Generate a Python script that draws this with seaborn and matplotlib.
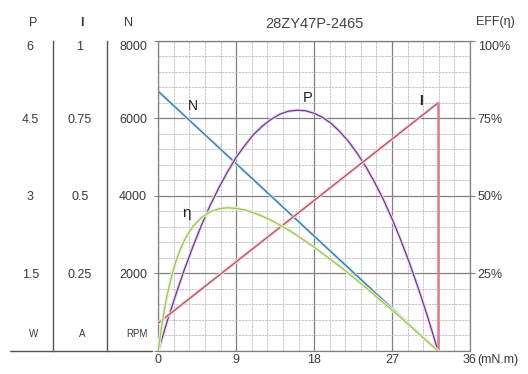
import numpy as np
import matplotlib
matplotlib.use("Agg")
import matplotlib.pyplot as plt
import matplotlib.patheffects as pe
import seaborn as sns

# values (torque in mN.m)
torque_line = [0, 32.3]
speed_rpm = [6700, 0]
current_a = [0.09, 0.80]

torque_p = [0, 0.5, 1, 2, 3, 4, 5, 6, 7, 8, 9, 10, 11, 12, 13, 14, 15, 16, 17, 18, 19,
            20, 21, 22, 23, 24, 25, 26, 27, 28, 29, 30, 31, 31.7, 32.3]
power_w = [0, 0.28, 0.56, 1.08, 1.57, 2.02, 2.44, 2.82, 3.16, 3.47, 3.75, 3.98, 4.19,
           4.35, 4.48, 4.58, 4.64, 4.66, 4.65, 4.60, 4.52, 4.40, 4.24, 4.05, 3.82,
           3.56, 3.26, 2.93, 2.56, 2.15, 1.71, 1.23, 0.72, 0.34, 0]

torque_eff = [0, 0.1, 0.25, 0.5, 0.75, 1, 1.5, 2, 2.5, 3, 3.5, 4, 5, 6, 7, 8, 9, 10,
              11, 12, 13, 14, 15, 16, 17, 18, 19, 20, 21, 22, 23, 24, 25, 26, 27, 28,
              29, 30, 31, 31.7, 32.3]
eff_pct = [0, 2.2, 5.3, 9.9, 14.0, 17.7, 23.7, 28.6, 32.5, 35.6, 38.1, 40.2, 43.1,
           44.9, 45.9, 46.2, 46.0, 45.5, 44.6, 43.5, 42.2, 40.7, 39.1, 37.3, 35.4,
           33.5, 31.4, 29.3, 27.2, 25.0, 22.7, 20.4, 18.0, 15.6, 13.2, 10.8, 8.3,
           5.8, 3.3, 1.5, 0]

x_ticks = [0, 9, 18, 27, 36]
n_ticks = [2000, 4000, 6000, 8000]
p_ticks = [1.5, 3, 4.5, 6]
p_labels = ["1.5", "3", "4.5", "6"]
i_ticks = [0.25, 0.5, 0.75, 1]
i_labels = ["0.25", "0.5", "0.75", "1"]
e_ticks = [25, 50, 75, 100]
e_labels = ["25%", "50%", "75%", "100%"]

sns.set_style("white")
plt.rcParams["font.family"] = ["Liberation Sans", "DejaVu Sans"]
plt.rcParams["font.size"] = 9
txt = "#3a3a3a"
gridc = "#808080"

fig = plt.figure(figsize=(5.28, 3.74), dpi=100)
ax = fig.add_axes([0.2998, 0.0615, 0.5903, 0.8289])
ax.set_xlim(0, 36)
ax.set_ylim(0, 8000)

# grid: solid majors, dashed minors
ax.set_xticks(x_ticks)
ax.set_xticks(np.arange(0, 36.01, 1.8), minor=True)
ax.set_yticks([0] + n_ticks)
ax.set_yticks(np.arange(0, 8001, 400), minor=True)
ax.set_yticklabels([""] + [str(v) for v in n_ticks])
ax.grid(which="major", color=gridc, lw=0.9)
ax.grid(which="minor", color="#bdbdbd", lw=0.6, ls=(0, (3, 1)))
ax.set_axisbelow(True)
for s in ax.spines.values():
    s.set_color(gridc)
    s.set_linewidth(0.9)
ax.tick_params(axis="x", which="both", length=0, pad=2.5, labelcolor=txt)
ax.tick_params(axis="y", which="major", direction="out", length=3, pad=5,
               color=gridc, labelcolor=txt)
ax.tick_params(axis="y", which="minor", length=0)
ax.yaxis.get_ticklabels()[-1].set_va("top")

# P and I columns on the left
def left_column(lim, ticks, labels, pos, pad):
    a = ax.twinx()
    a.set_ylim(*lim)
    a.yaxis.set_ticks_position("left")
    a.set_yticks(ticks)
    a.set_yticklabels(labels)
    for k, s in a.spines.items():
        s.set_visible(k == "left")
    a.spines["left"].set_position(("axes", pos))
    a.spines["left"].set_color("#555555")
    a.spines["left"].set_linewidth(1.0)
    a.tick_params(axis="y", length=0, pad=pad, labelcolor=txt)
    for t in a.get_yticklabels():
        t.set_ha("center")
    a.get_yticklabels()[-1].set_va("top")
    return a

ax_p = left_column((0, 6), p_ticks, p_labels, -0.3370, 16.5)
ax_i = left_column((0, 1), i_ticks, i_labels, -0.1655, 19.4)

# efficiency axis on the right
ax_e = ax.twinx()
ax_e.set_ylim(0, 100)
ax_e.set_yticks(e_ticks)
ax_e.set_yticklabels(e_labels)
for s in ax_e.spines.values():
    s.set_visible(False)
ax_e.tick_params(axis="y", direction="out", length=3.5, pad=2, color=gridc,
                 labelcolor=txt)
ax_e.get_yticklabels()[-1].set_va("top")

def glow(c):
    return [pe.Stroke(linewidth=2.4, foreground=c), pe.Normal()]

sns.lineplot(x=torque_line, y=speed_rpm, ax=ax, color="#357398", lw=0.9,
             path_effects=glow("#cdeaf4"))
sns.lineplot(x=torque_p, y=power_w, ax=ax_p, color="#6c3a86", lw=0.9,
             path_effects=glow("#ead9f0"))
sns.lineplot(x=torque_line, y=current_a, ax=ax_i, color="#b0505f", lw=0.9,
             path_effects=glow("#f8d6db"))
sns.lineplot(x=[torque_line[-1], torque_line[-1]], y=[current_a[-1], 0], ax=ax_i,
             estimator=None, sort=False, color="#e27b8a", lw=1.8)
sns.lineplot(x=torque_eff, y=eff_pct, ax=ax_e, color="#9cc45a", lw=0.9,
             path_effects=glow("#ebf4d6"))
for a in (ax_p, ax_i, ax_e):
    a.set_xlim(0, 36)
    a.set_ylabel("")
ax.set_ylabel("")

# curve labels
ax.text(4.0, 6330, "N", fontsize=10, ha="center", va="center", color="#222222")
ax_p.text(17.2, 4.9, "P", fontsize=10.5, ha="center", va="center", color="#222222")
ax_i.text(30.4, 0.807, "I", fontsize=10, fontweight="bold", ha="center",
          va="center", color="#222222")
ax_e.text(3.3, 44.4, "η", fontsize=11, ha="center", va="center", color="#222222")

# headers, units and frame bits
tr = ax.transAxes
ax.text(0.5, 1.056, "28ZY47P-2465", transform=tr, ha="center", va="center",
        color="#444444", fontsize=10.5)
ax.text(1.083, 1.060, "EFF(η)", transform=tr, ha="center", va="center", color=txt)
for xp, head, unit in [(-0.400, "P", "W"), (-0.245, "I", "A"), (-0.095, "N", None)]:
    ax.text(xp, 1.058, head, transform=tr, ha="center", va="center", color=txt,
            fontweight="bold" if head == "I" else "normal")
    if unit:
        ax.text(xp, 0.055, unit, transform=tr, ha="center", va="center", color=txt,
                fontsize=7)
ax.text(-0.068, 0.055, "RPM", transform=tr, ha="center", va="center", color=txt,
        fontsize=7)
ax.plot([-0.476, -0.02], [0, 0], transform=tr, color="#555555", lw=1.0, clip_on=False)
ax.annotate("(mN.m)", xy=(36, 0), xytext=(5, -2.5), textcoords="offset points",
            ha="left", va="top", color=txt)
ax.set_xticklabels([str(v) for v in x_ticks])

fig.savefig("out.png", dpi=100)
